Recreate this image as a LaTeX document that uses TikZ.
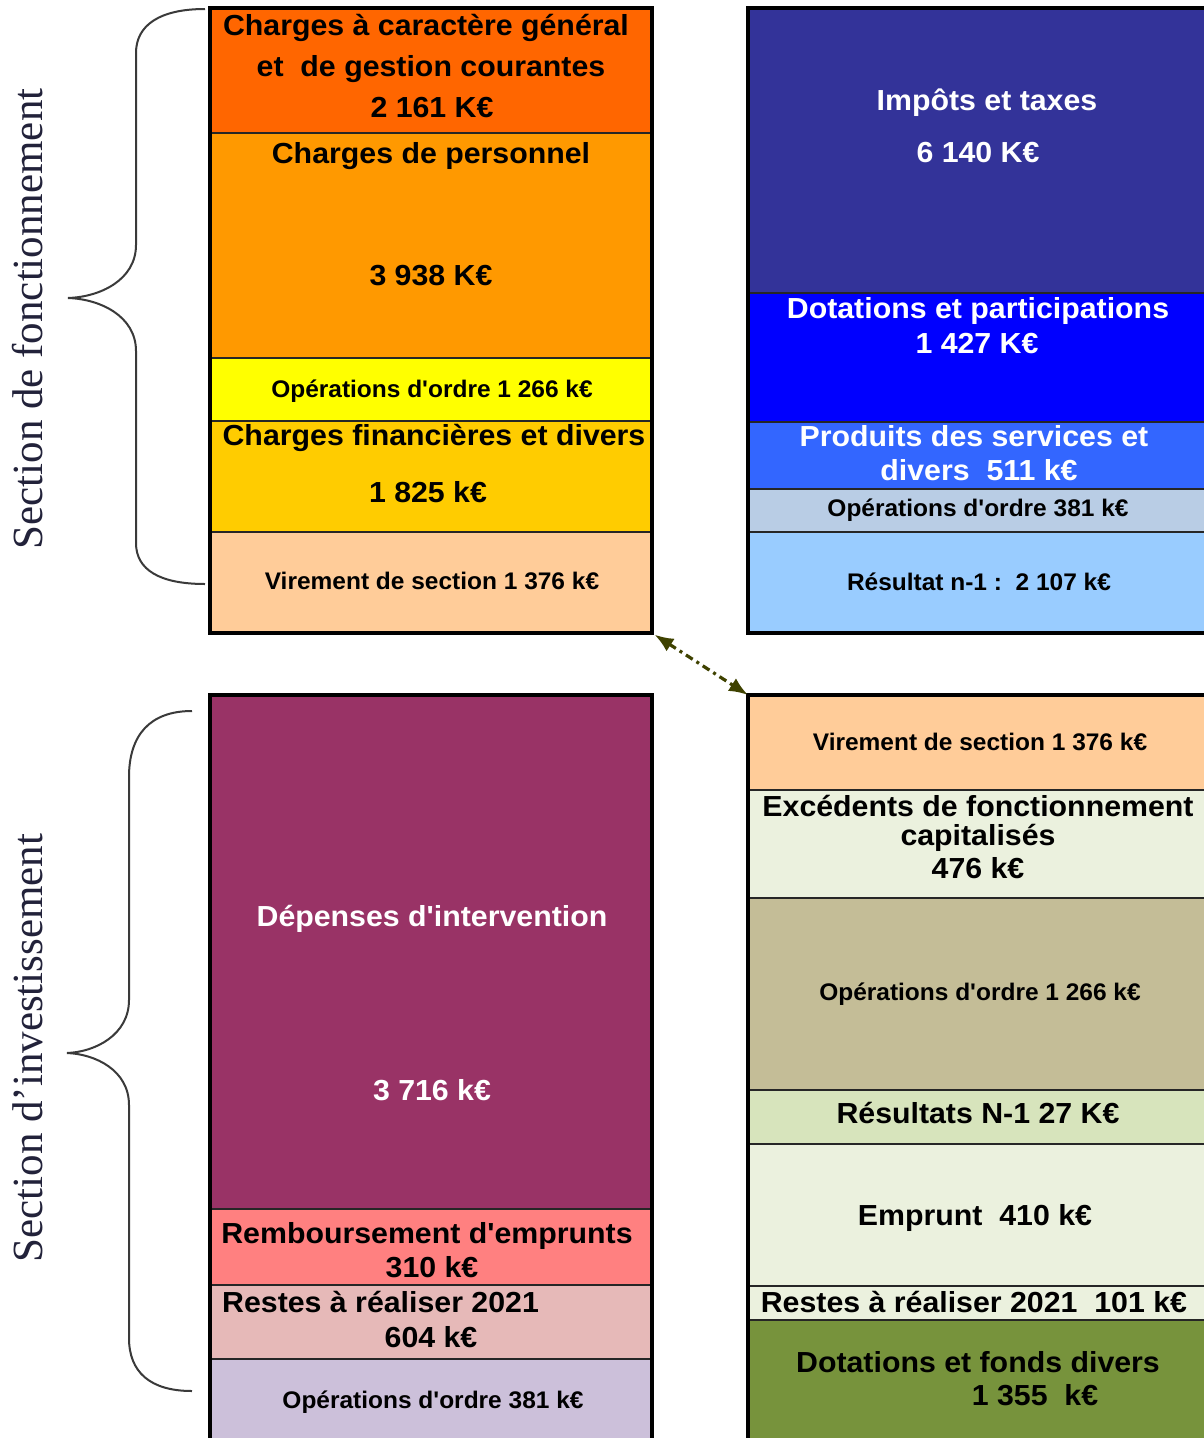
\documentclass[tikz,border=0pt]{standalone}
\usepackage{fontspec}
\setmainfont{Liberation Sans}
\newfontfamily\labfont{Liberation Sans}[FakeStretch=1.045]
\newfontfamily\slabfont{Liberation Sans}[FakeStretch=1.02]
\newfontfamily\sectfont{Liberation Serif}
\usetikzlibrary{arrows.meta}
\definecolor{cA}{HTML}{FF6600}
\definecolor{cB}{HTML}{FF9900}
\definecolor{cC}{HTML}{FFFF00}
\definecolor{cD}{HTML}{FFCC00}
\definecolor{cE}{HTML}{FFCC99}
\definecolor{cF}{HTML}{333399}
\definecolor{cG}{HTML}{0000FF}
\definecolor{cH}{HTML}{3366FF}
\definecolor{cI}{HTML}{B9CDE5}
\definecolor{cJ}{HTML}{99CCFF}
\definecolor{cK}{HTML}{993366}
\definecolor{cL}{HTML}{FF8080}
\definecolor{cM}{HTML}{E6B9B8}
\definecolor{cN}{HTML}{CCC0DA}
\definecolor{cO}{HTML}{EBF1DE}
\definecolor{cP}{HTML}{C4BD97}
\definecolor{cQ}{HTML}{D7E4BC}
\definecolor{cR}{HTML}{77933C}
\definecolor{arrowcol}{HTML}{3F4200}
\definecolor{bracecol}{HTML}{3A3A3A}
\definecolor{sectcol}{HTML}{22223A}
\newcommand{\segnode}[6]{\node[segbox, fill=#6, minimum width={(#4-#2)*1pt}, minimum height={(#5-#3)*1pt}] (#1) at ({(#2+#4)/2},{(#3+#5)/2}) {};}
\begin{document}
\begin{tikzpicture}[x=1pt,y=-1pt,
  segbox/.style={draw=black!85, line width=1.6pt, inner sep=0pt, outer sep=0pt, rectangle},
  frame/.style={draw=black, line width=3.6pt},
  lbl/.style={anchor=base, inner sep=0pt, font=\labfont\bfseries\fontsize{29}{32}\selectfont},
  slbl/.style={anchor=base, inner sep=0pt, font=\slabfont\bfseries\fontsize{24}{28}\selectfont},
  wlbl/.style={lbl, text=white},
  brace/.style={draw=bracecol, line width=2pt},
  sect/.style={rotate=90, inner sep=0pt, text=sectcol, font=\sectfont\fontsize{43}{43}\selectfont},
  conn/.style={draw=arrowcol, line width=3.2pt, dash pattern=on 8pt off 4.5pt on 3pt off 4.5pt,
    {Latex[length=19pt,width=15pt]}-{Latex[length=19pt,width=15pt]}}
]
\useasboundingbox[fill=white] (0,0) rectangle (1203,1438);

% ---------- top left : dépenses de fonctionnement
\segnode{tl1}{210}{8}{652}{133}{cA}
\segnode{tl2}{210}{133}{652}{358}{cB}
\segnode{tl3}{210}{358}{652}{421}{cC}
\segnode{tl4}{210}{421}{652}{532}{cD}
\segnode{tl5}{210}{532}{652}{633}{cE}
\draw[frame] (tl1.north west) rectangle (tl5.south east);

% ---------- top right : recettes de fonctionnement
\segnode{tr1}{748}{8}{1212}{293}{cF}
\segnode{tr2}{748}{293}{1212}{422}{cG}
\segnode{tr3}{748}{422}{1212}{489}{cH}
\segnode{tr4}{748}{489}{1212}{532}{cI}
\segnode{tr5}{748}{532}{1212}{633}{cJ}
\draw[frame] (tr1.north west) rectangle (tr5.south east);

% ---------- bottom left : dépenses d'investissement
\segnode{bl1}{210}{695}{652}{1209}{cK}
\segnode{bl2}{210}{1209}{652}{1285}{cL}
\segnode{bl3}{210}{1285}{652}{1359}{cM}
\segnode{bl4}{210}{1359}{652}{1446}{cN}
\draw[frame] (bl1.north west) rectangle (bl4.south east);

% ---------- bottom right : recettes d'investissement
\segnode{br1}{748}{695}{1212}{790}{cE}
\segnode{br2}{748}{790}{1212}{898}{cO}
\segnode{br3}{748}{898}{1212}{1090}{cP}
\segnode{br4}{748}{1090}{1212}{1144}{cQ}
\segnode{br5}{748}{1144}{1212}{1286}{cO}
\segnode{br6}{748}{1286}{1212}{1320}{cO}
\segnode{br7}{748}{1320}{1212}{1446}{cR}
\draw[frame] (br1.north west) rectangle (br7.south east);

% ---------- texts top left
\node[lbl] (t1a) at (426,35) {Charges à caractère général};
\node[lbl] (t1b) at (431,76) {et\ \ de gestion courantes};
\node[lbl] (t1c) at (432,117) {2 161 K€};
\node[lbl] (t2a) at (431,163) {Charges de personnel};
\node[lbl] (t2b) at (431,285) {3 938 K€};
\node[slbl] (t3) at (432,397) {Opérations d'ordre 1 266 k€};
\node[lbl] (t4a) at (434,445) {Charges financières et divers};
\node[lbl] (t4b) at (428,502) {1 825 k€};
\node[slbl] (t5) at (432,589) {Virement de section 1 376 k€};

% ---------- texts top right
\node[wlbl] (r1a) at (987,110) {Impôts et taxes};
\node[wlbl] (r1b) at (978,162) {6 140 K€};
\node[wlbl] (r2a) at (978,318) {Dotations et participations};
\node[wlbl] (r2b) at (977,353) {1 427 K€};
\node[wlbl] (r3a) at (974,446) {Produits des services et};
\node[wlbl] (r3b) at (979,480) {divers\ \ 511 k€};
\node[slbl] (r4) at (978,516) {Opérations d'ordre 381 k€};
\node[slbl] (r5) at (979,590) {Résultat n-1 :\ \ 2 107 k€};

% ---------- texts bottom left
\node[wlbl] (b1a) at (432,926) {Dépenses d'intervention};
\node[wlbl] (b1b) at (432,1100) {3 716 k€};
\node[lbl] (b2a) at (427,1243) {Remboursement d'emprunts};
\node[lbl] (b2b) at (432,1277) {310 k€};
\node[lbl, anchor=base west] (b3a) at (222,1312) {Restes à réaliser 2021};
\node[lbl] (b3b) at (431,1347) {604 k€};
\node[slbl] (b4) at (433,1408) {Opérations d'ordre 381 k€};

% ---------- texts bottom right
\node[slbl] (s1) at (980,750) {Virement de section 1 376 k€};
\node[lbl] (s2a) at (978,816) {Excédents de fonctionnement};
\node[lbl] (s2b) at (978,845) {capitalisés};
\node[lbl] (s2c) at (978,878) {476 k€};
\node[slbl] (s3) at (980,1000) {Opérations d'ordre 1 266 k€};
\node[lbl] (s4) at (978,1123) {Résultats N-1 27 K€};
\node[lbl] (s5) at (975,1225) {Emprunt\ \ 410 k€};
\node[lbl] (s6) at (974,1312) {Restes à réaliser 2021\ \ 101 k€};
\node[lbl] (s7a) at (978,1372) {Dotations et fonds divers};
\node[lbl] (s7b) at (1035,1405) {1 355\ \ k€};

% ---------- braces and section titles
\draw[brace] (205,9) .. controls (160,9) and (136,25) .. (136,53)
  -- (136,245) .. controls (136,280) and (100,297) .. (68,298)
  .. controls (100,299) and (136,316) .. (136,351)
  -- (136,543) .. controls (136,570) and (160,584) .. (205,584);
\draw[brace] (192,711) .. controls (150,711) and (129,735) .. (129,777)
  -- (129,1000) .. controls (129,1035) and (95,1052) .. (67,1053)
  .. controls (95,1054) and (129,1070) .. (129,1105)
  -- (129,1338) .. controls (129,1372) and (150,1391) .. (192,1391);
\node[sect] (secf) at (28,319) {Section de fonctionnement};
\node[sect] (seci) at (28,1048) {Section d’investissement};

% ---------- connector
\draw[conn, shorten <=3pt] (tl5.south east) -- (br1.north west);
\end{tikzpicture}
\end{document}
